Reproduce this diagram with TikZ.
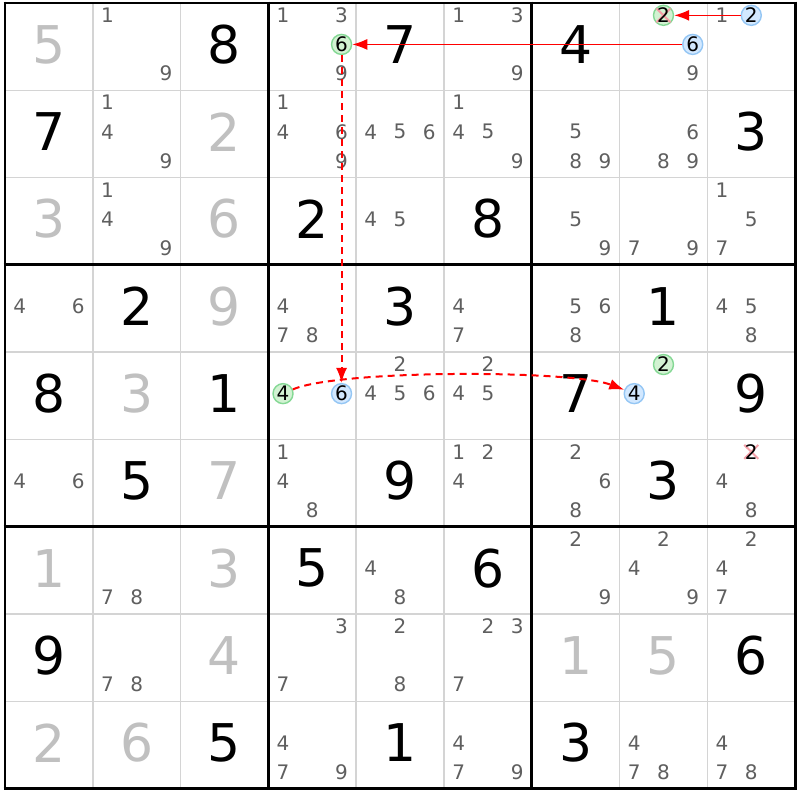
\documentclass[tikz,border=0pt]{standalone}
\usepackage{fontspec}
\setmainfont{DejaVu Sans}
\usetikzlibrary{arrows.meta}
\definecolor{givengrey}{HTML}{C0C0C0}
\definecolor{candgrey}{HTML}{5F5F5F}
\definecolor{thingrey}{HTML}{D4D4D4}
\definecolor{greenfill}{HTML}{D2F2D2}
\definecolor{greenline}{HTML}{84D894}
\definecolor{bluefill}{HTML}{D2E8FF}
\definecolor{blueline}{HTML}{94C6F4}
\definecolor{crossred}{HTML}{F4A0A8}
\definecolor{linkred}{HTML}{FF0000}
\begin{document}
\begin{tikzpicture}[x=87.8pt, y=-87.3pt,
  given/.style={font=\fontsize{52}{52}\selectfont, text=givengrey, inner sep=0pt},
  solved/.style={font=\fontsize{52}{52}\selectfont, text=black, inner sep=0pt},
  cand/.style={font=\fontsize{20}{20}\selectfont, text=candgrey, inner sep=0pt},
  oncand/.style={circle, draw=greenline, fill=greenfill, line width=1.4pt, minimum size=20pt, inner sep=0pt, font=\fontsize{20}{20}\selectfont, text=black},
  offcand/.style={oncand, draw=blueline, fill=bluefill},
  link/.style={draw=linkred, line width=1.5pt, -{Latex[length=15pt,width=11pt]}},
  weaklink/.style={link, line width=2pt, dash pattern=on 7pt off 5pt},
  strike/.style={crossred, line width=2pt}]
\useasboundingbox[fill=white] (-0.057,-0.034) rectangle (9.055,9.129);
% grid
\foreach \i in {1,2,4,5,7,8} {
  \draw[thingrey, line width=1.5pt] (\i,0) -- (\i,9);
  \draw[thingrey, line width=1.5pt] (0,\i) -- (9,\i);
}
\foreach \i in {0,3,6,9} {
  \draw[black, line width=2.8pt] (\i,-0.016) -- (\i,9.016);
  \draw[black, line width=2.8pt] (-0.016,\i) -- (9.016,\i);
}
% givens
\foreach \r/\c/\v in {1/1/5, 2/3/2, 3/1/3, 3/3/6, 4/3/9, 5/2/3, 6/3/7, 7/1/1, 7/3/3, 8/3/4, 8/7/1, 8/8/5, 9/1/2, 9/2/6}
  \node[given] (v\r\c) at (\c-0.5,\r-0.525) {\v};
% solved cells
\foreach \r/\c/\v in {1/3/8, 1/5/7, 1/7/4, 2/1/7, 2/9/3, 3/4/2, 3/6/8, 4/2/2, 4/5/3, 4/8/1, 5/1/8, 5/3/1, 5/7/7, 5/9/9, 6/2/5, 6/5/9, 6/8/3, 7/4/5, 7/6/6, 8/1/9, 8/9/6, 9/3/5, 9/5/1, 9/7/3}
  \node[solved] (v\r\c) at (\c-0.5,\r-0.525) {\v};
% candidates
\foreach \r/\c/\ds in {1/2/{1,9}, 1/4/{1,3,9}, 1/6/{1,3,9}, 1/8/{9}, 1/9/{1},
    2/2/{1,4,9}, 2/4/{1,4,6,9}, 2/5/{4,5,6}, 2/6/{1,4,5,9}, 2/7/{5,8,9}, 2/8/{6,8,9},
    3/2/{1,4,9}, 3/5/{4,5}, 3/7/{5,9}, 3/8/{7,9}, 3/9/{1,5,7},
    4/1/{4,6}, 4/4/{4,7,8}, 4/6/{4,7}, 4/7/{5,6,8}, 4/9/{4,5,8},
    5/5/{2,4,5,6}, 5/6/{2,4,5},
    6/1/{4,6}, 6/4/{1,4,8}, 6/6/{1,2,4}, 6/7/{2,6,8}, 6/9/{4,8},
    7/2/{7,8}, 7/5/{4,8}, 7/7/{2,9}, 7/8/{2,4,9}, 7/9/{2,4,7},
    8/2/{7,8}, 8/4/{3,7}, 8/5/{2,8}, 8/6/{2,3,7},
    9/4/{4,7,9}, 9/6/{4,7,9}, 9/8/{4,7,8}, 9/9/{4,7,8}}
  \foreach \d in \ds {
    \pgfmathsetmacro\cx{\c-1+(mod(\d-1,3)+0.5)/3}
    \pgfmathsetmacro\cy{\r-1+(floor((\d-1)/3)+0.5)/3-0.025}
    \node[cand] (k\r\c\d) at (\cx,\cy) {\d};
  }
% chain candidates
\node[oncand] (k146) at (3.8333,0.475) {6};
\node[oncand] (k182) at (7.5,0.1417) {};
\draw[strike] (7.42,0.062) -- (7.58,0.222);
\draw[strike] (7.42,0.222) -- (7.58,0.062);
\node[cand, text=black] (t182) at (k182) {2};
\node[offcand] (k186) at (7.8333,0.475) {6};
\node[offcand] (k192) at (8.5,0.1417) {2};
\node[oncand] (k544) at (3.1667,4.475) {4};
\node[offcand] (k546) at (3.8333,4.475) {6};
\node[oncand] (k582) at (7.5,4.1417) {2};
\node[offcand] (k584) at (7.1667,4.475) {4};
\draw[strike] (8.42,5.062) -- (8.58,5.222);
\draw[strike] (8.42,5.222) -- (8.58,5.062);
\node[cand, text=black] (k692) at (8.5,5.1417) {2};
% links
\draw[link] (k192) -- (k182);
\draw[link] (k186) -- (k146);
\draw[weaklink] (k146) -- (k546);
\draw[weaklink] (k544) .. controls (3.8,4.2) and (6.45,4.2) .. (k584);
\end{tikzpicture}
\end{document}
